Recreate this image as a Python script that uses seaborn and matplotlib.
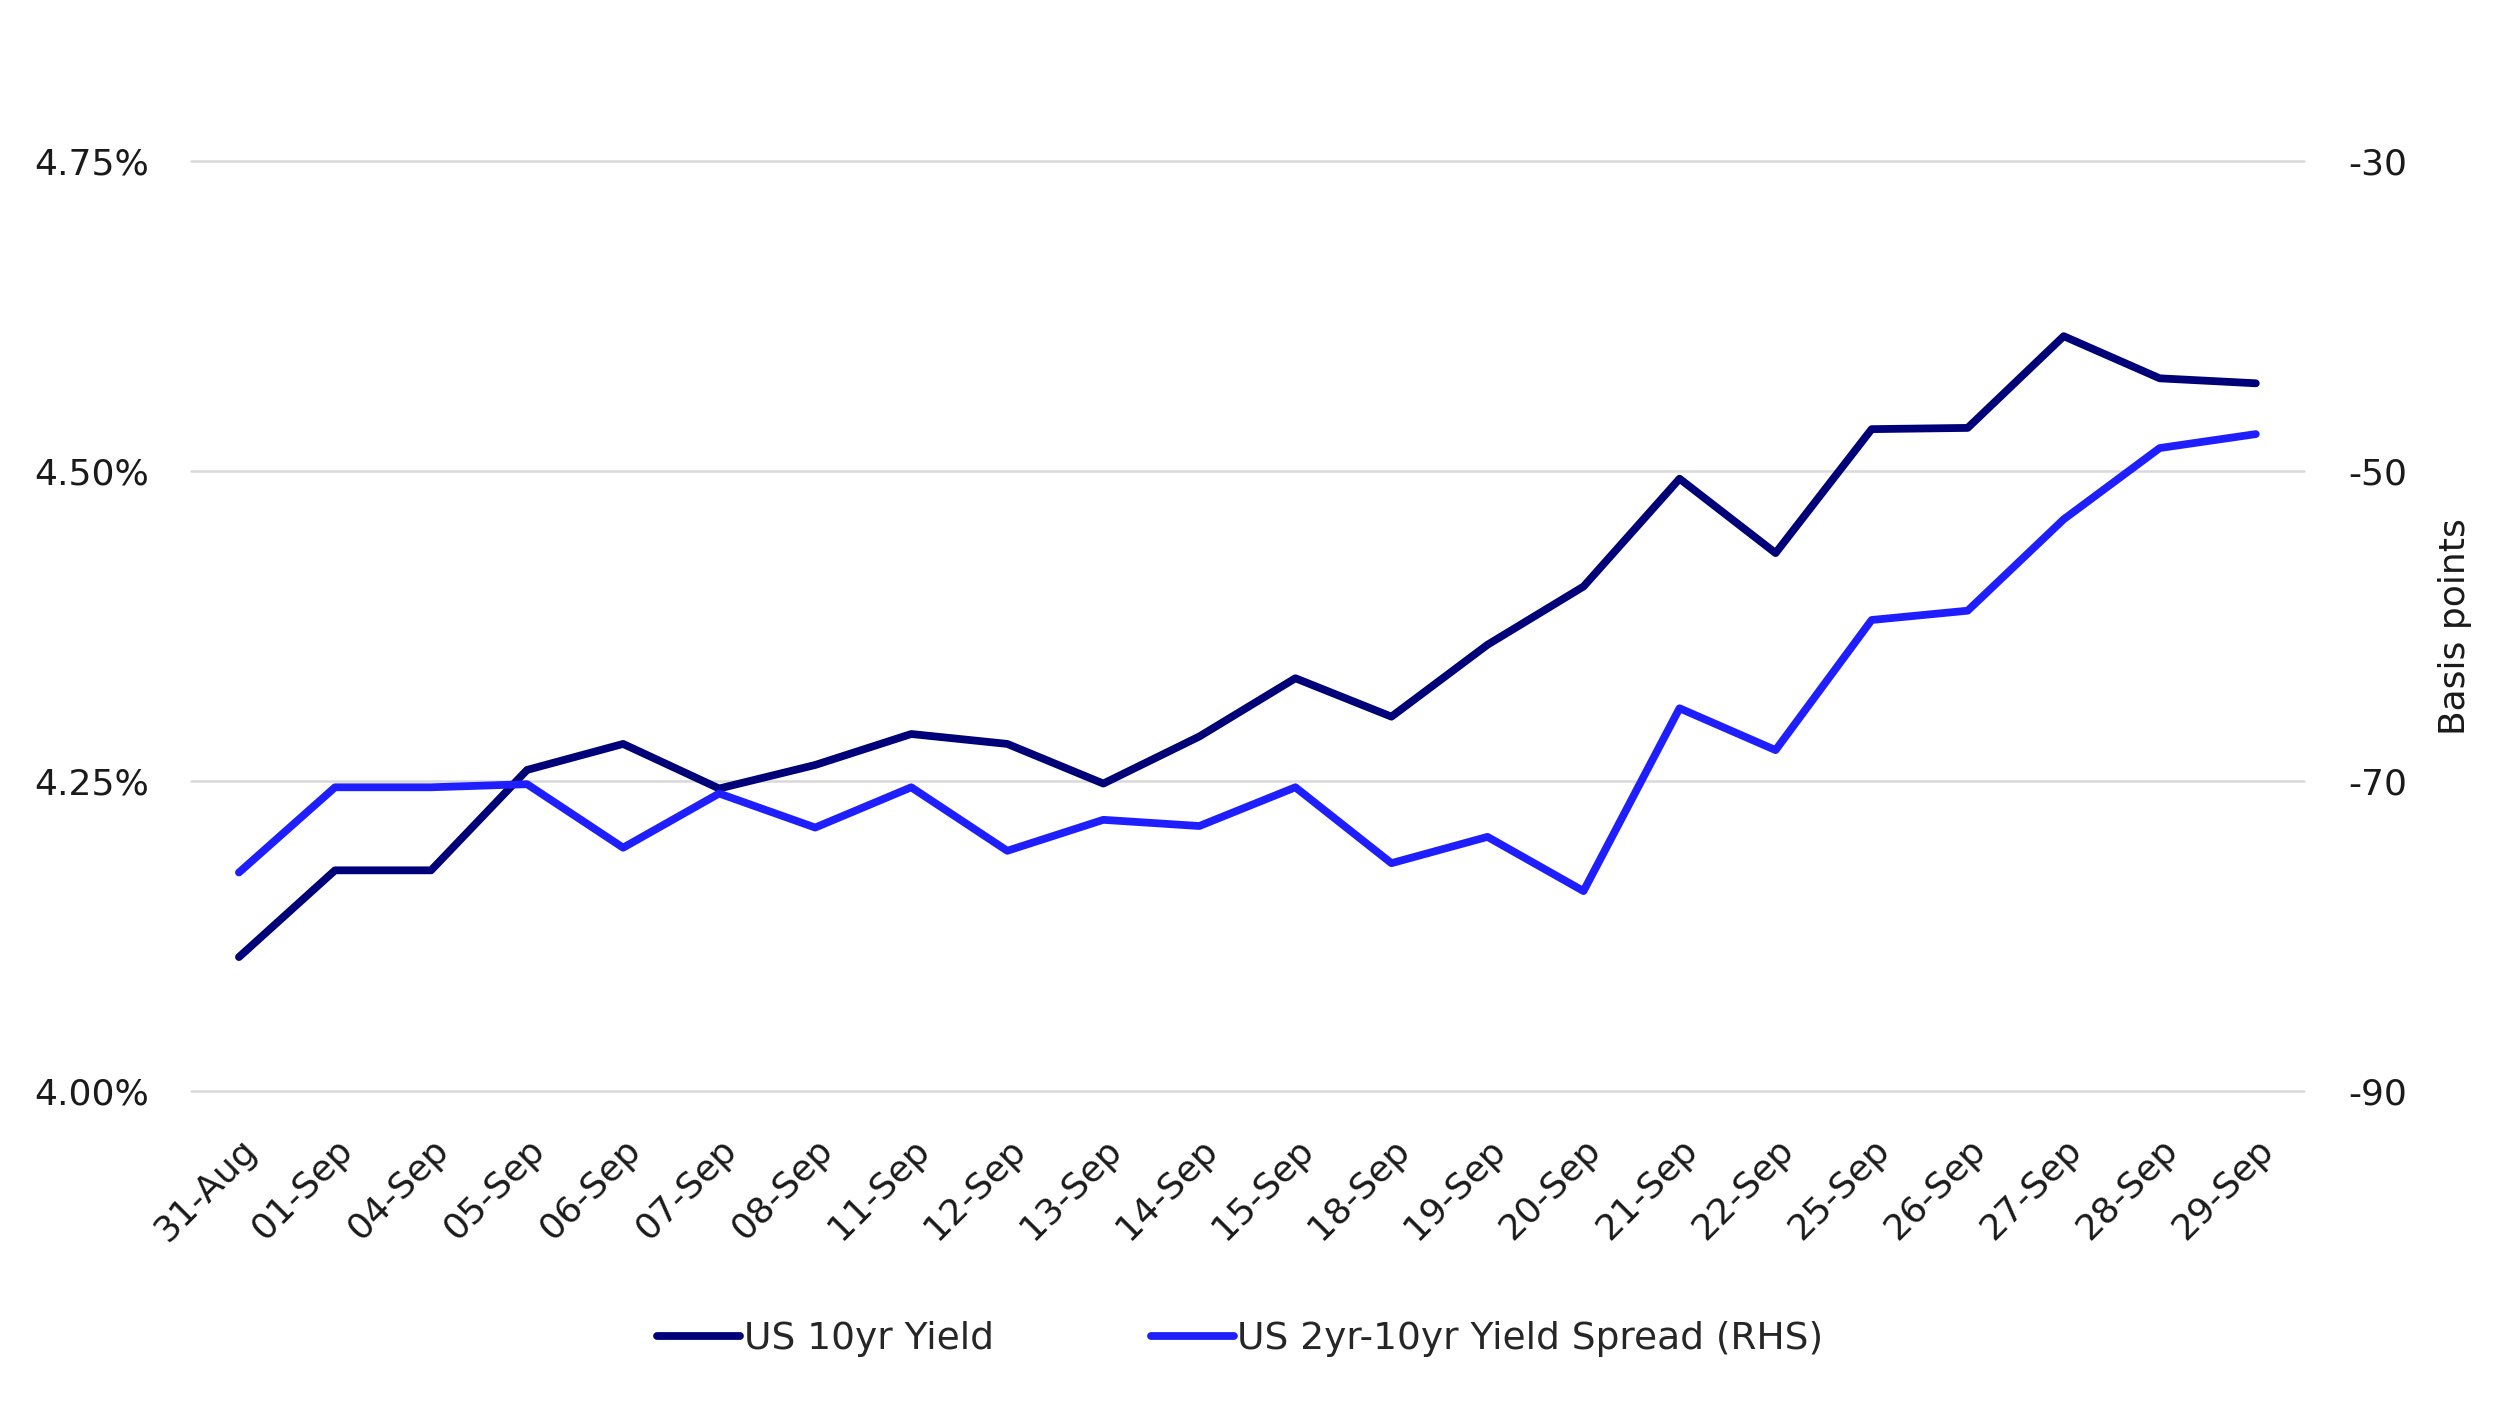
import seaborn as sns
import pandas as pd
import matplotlib.pyplot as plt

dates = ["31-Aug", "01-Sep", "04-Sep", "05-Sep", "06-Sep", "07-Sep", "08-Sep",
         "11-Sep", "12-Sep", "13-Sep", "14-Sep", "15-Sep", "18-Sep", "19-Sep",
         "20-Sep", "21-Sep", "22-Sep", "25-Sep", "26-Sep", "27-Sep", "28-Sep",
         "29-Sep"]
us10y = [4.108, 4.178, 4.178, 4.259, 4.280, 4.244, 4.263, 4.288, 4.280, 4.248,
         4.286, 4.333, 4.302, 4.360, 4.407, 4.494, 4.434, 4.534, 4.535, 4.609,
         4.575, 4.571]
spread = [-75.9, -70.4, -70.4, -70.2, -74.3, -70.8, -73.0, -70.4, -74.5, -72.5,
          -72.9, -70.4, -75.3, -73.6, -77.1, -65.3, -68.0, -59.6, -59.0, -53.1,
          -48.5, -47.6]

df = pd.DataFrame({"Date": dates, "US 10yr Yield": us10y,
                   "US 2yr-10yr Yield Spread (RHS)": spread})

navy = "#000078"
blue = "#1e1eff"

sns.set_style("white")
plt.rcParams["font.family"] = ["DejaVu Sans"]
plt.rcParams["axes.unicode_minus"] = False

fig, ax = plt.subplots(figsize=(24.96, 14.04), dpi=100)
fig.subplots_adjust(left=0.0765, right=0.923, top=0.885, bottom=0.223)
ax2 = ax.twinx()

sns.lineplot(data=df, x="Date", y="US 10yr Yield", color=navy, lw=5.6,
             ax=ax, label="US 10yr Yield", legend=False)
sns.lineplot(data=df, x="Date", y="US 2yr-10yr Yield Spread (RHS)", color=blue,
             lw=5.6, ax=ax2, label="US 2yr-10yr Yield Spread (RHS)", legend=False)

ax.set_ylim(4.0, 4.75)
ax.set_yticks([4.0, 4.25, 4.5, 4.75])
ax.set_yticklabels([f"{v:.2f}%" for v in [4.0, 4.25, 4.5, 4.75]])
ax2.set_ylim(-90, -30)
ax2.set_yticks([-90, -70, -50, -30])
ax.set_xlim(-0.5, len(dates) - 0.5)

ax.yaxis.grid(True, color="#d9d9d9", lw=1.8)
for g in ax.get_ygridlines():
    g.set_clip_on(False)
ax.set_axisbelow(True)
for a in (ax, ax2):
    for s in a.spines.values():
        s.set_visible(False)
    a.tick_params(length=0, labelsize=26, labelcolor="#1a1a1a")
ax.tick_params(axis="y", pad=30)
ax2.tick_params(axis="y", pad=32)
ax.tick_params(axis="x", pad=30)
ax.set_xlabel("")
ax.set_ylabel("")
ax2.set_ylabel("Basis points", fontsize=26, color="#1a1a1a", labelpad=22)
plt.setp(ax.get_xticklabels(), rotation=45, ha="right", rotation_mode="anchor")

h1, l1 = ax.get_legend_handles_labels()
h2, l2 = ax2.get_legend_handles_labels()
fig.legend(h1 + h2, l1 + l2, loc="center", bbox_to_anchor=(0.497, 0.046), ncol=2,
           frameon=False, fontsize=27, handlelength=2.2, handletextpad=0.1,
           columnspacing=4.2)

plt.savefig("out.png")
